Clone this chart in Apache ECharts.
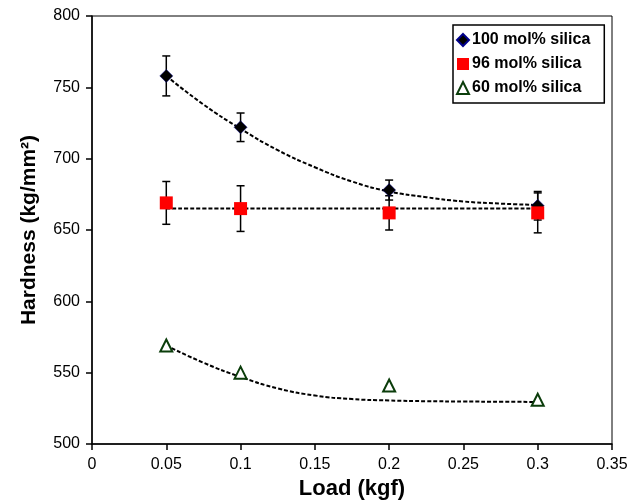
<!DOCTYPE html>
<html>
<head>
<meta charset="utf-8">
<script src="https://cdn.jsdelivr.net/npm/echarts@6/dist/echarts.min.js"></script>
<style>html,body{margin:0;padding:0;background:#fff}#c{width:631px;height:501px}</style>
</head>
<body>
<div id="c"></div>
<script>
// Data
const loads = [0.05, 0.1, 0.2, 0.3];
const silica100 = [758, 722, 678, 667];
const silica100Err = [14, 10, 7, 10];
const silica96 = [669, 665, 662, 662];
const silica96Err = [15, 16, 12, 14];
const silica60 = [569, 550, 541, 531];

// Dashed trend curves
const trendX = [0.05, 0.075, 0.1, 0.125, 0.15, 0.175, 0.2, 0.225, 0.25, 0.275, 0.3];
const trend100 = [758, 738, 721, 706, 694, 684, 677, 673, 670, 668.5, 667.5];
const trend96 = [665, 665, 665, 665, 665, 665, 665, 665, 665, 665, 665];
const trend60 = [569, 557, 547, 539, 534, 531.5, 530.5, 530, 529.8, 529.6, 529.5];

const names = ['100 mol% silica', '96 mol% silica', '60 mol% silica'];

function pairs(xs, ys) { return xs.map((x, i) => [x, ys[i]]); }
function errData(xs, ys, es) { return xs.map((x, i) => [x, ys[i] - es[i], ys[i] + es[i]]); }

function errRender(params, api) {
  const x = api.value(0);
  const lo = api.coord([x, api.value(1)]);
  const hi = api.coord([x, api.value(2)]);
  const cw = 4;
  const st = { stroke: '#000', lineWidth: 1.5 };
  return {
    type: 'group',
    children: [
      { type: 'line', shape: { x1: lo[0], y1: lo[1], x2: hi[0], y2: hi[1] }, style: st },
      { type: 'line', shape: { x1: lo[0] - cw, y1: lo[1], x2: lo[0] + cw, y2: lo[1] }, style: st },
      { type: 'line', shape: { x1: hi[0] - cw, y1: hi[1], x2: hi[0] + cw, y2: hi[1] }, style: st }
    ]
  };
}

const font = '"Liberation Sans", Arial, Helvetica, sans-serif';
const dashLine = (data) => ({
  type: 'line', data, smooth: true, symbol: 'none', silent: true,
  lineStyle: { color: '#000', width: 2, type: [4, 2] }, z: 2
});

const chart = echarts.init(document.getElementById('c'), null, { renderer: 'canvas' });
chart.setOption({
  animation: false,
  backgroundColor: '#fff',
  grid: { left: 92, right: 19, top: 16, bottom: 57, show: true, borderColor: '#000', borderWidth: 1,
          containLabel: false, outerBoundsMode: 'none' },
  legend: {
    orient: 'vertical', left: 453, top: 25,
    data: names,
    itemWidth: 12, itemHeight: 12, itemGap: 8,
    padding: [7, 14, 7, 3],
    borderColor: '#000', borderWidth: 1.5, backgroundColor: '#fff',
    textStyle: { fontFamily: font, fontWeight: 'bold', fontSize: 16, color: '#000', padding: [0, 0, 0, -2] }
  },
  xAxis: {
    type: 'value', min: 0, max: 0.35, interval: 0.05,
    name: 'Load (kgf)', nameLocation: 'middle', nameGap: 32,
    nameTextStyle: { fontFamily: font, fontWeight: 'bold', fontSize: 22, color: '#000' },
    axisLine: { show: true, onZero: false, lineStyle: { color: '#000', width: 1.5 } },
    axisTick: { show: true, length: 6, lineStyle: { color: '#000', width: 1.5 } },
    axisLabel: { fontFamily: font, fontSize: 16, color: '#000', margin: 13, formatter: (v) => String(+v.toFixed(2)) },
    splitLine: { show: false }
  },
  yAxis: {
    type: 'value', min: 500, max: 800, interval: 50,
    name: 'Hardness (kg/mm²)', nameLocation: 'middle', nameGap: 52,
    nameTextStyle: { fontFamily: font, fontWeight: 'bold', fontSize: 21, color: '#000' },
    axisLine: { show: true, lineStyle: { color: '#000', width: 1.5 } },
    axisTick: { show: true, length: 6, lineStyle: { color: '#000', width: 1.5 } },
    axisLabel: { fontFamily: font, fontSize: 16, color: '#000', margin: 12 },
    splitLine: { show: false }
  },
  series: [
    dashLine(pairs(trendX, trend100)),
    dashLine(pairs(trendX, trend96)),
    dashLine(pairs(trendX, trend60)),
    { type: 'custom', renderItem: errRender, data: errData(loads, silica100, silica100Err), encode: { x: 0, y: [1, 2] }, silent: true, z: 3 },
    { type: 'custom', renderItem: errRender, data: errData(loads, silica96, silica96Err), encode: { x: 0, y: [1, 2] }, silent: true, z: 3 },
    { name: names[0], type: 'scatter', data: pairs(loads, silica100), symbol: 'diamond', symbolSize: 13,
      itemStyle: { color: '#000', borderColor: '#00008b', borderWidth: 0.5, opacity: 1 }, z: 4 },
    { name: names[1], type: 'scatter', data: pairs(loads, silica96), symbol: 'rect', symbolSize: 13,
      itemStyle: { color: '#ff0000', opacity: 1 }, z: 5 },
    { name: names[2], type: 'scatter', data: pairs(loads, silica60), symbol: 'triangle', symbolSize: 12,
      itemStyle: { color: '#fff', borderColor: '#0b3d0b', borderWidth: 2, opacity: 1 }, z: 5 }
  ]
});
</script>
</body>
</html>
